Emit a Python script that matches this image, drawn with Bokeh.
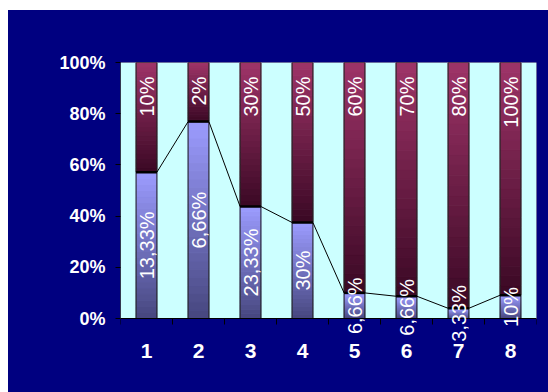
import numpy as np
from bokeh.plotting import figure
from bokeh.models import Range1d, FixedTicker, ColumnDataSource, Label
from bokeh.embed import file_html
from bokeh.resources import INLINE

categories = ["1", "2", "3", "4", "5", "6", "7", "8"]
bottom_vals = [13.33, 6.66, 23.33, 30, 6.66, 6.66, 3.33, 10]
top_vals = [10, 2, 30, 50, 60, 70, 80, 100]
bottom_labels = ["13,33%", "6,66%", "23,33%", "30%", "6,66%", "6,66%", "3,33%", "10%"]
top_labels = ["10%", "2%", "30%", "50%", "60%", "70%", "80%", "100%"]
y_ticks = [0, 0.2, 0.4, 0.6, 0.8, 1.0]
y_tick_labels = ["0%", "20%", "40%", "60%", "80%", "100%"]

NAVY = "#000080"
CYAN = "#CCFFFF"
FONT = "Liberation Sans"

# layout (pixels)
FIG_W, FIG_H = 540, 382
TOP = 52          # frame top
PLOT_H = 256      # height of the 0..100% band
LEFT, RIGHT = 112, 12

xs = np.arange(1, len(categories) + 1, dtype=float)
bv = np.array(bottom_vals, dtype=float)
tv = np.array(top_vals, dtype=float)
share = bv / (bv + tv)
W = 0.4

x0, x1 = 0.5, len(categories) + 0.5
y_start = -(FIG_H - TOP - PLOT_H) / PLOT_H

p = figure(width=FIG_W, height=FIG_H, output_backend="svg", toolbar_location=None,
           x_range=Range1d(x0, x1), y_range=Range1d(y_start, 1))
p.margin = (10, 0, 0, 8)
p.styles = {"background-color": NAVY}
p.min_border_left = LEFT
p.min_border_right = RIGHT
p.min_border_top = TOP
p.min_border_bottom = 0
p.background_fill_color = NAVY
p.border_fill_color = NAVY
p.outline_line_color = None
p.grid.visible = False

# plot area (0..100%)
p.quad(left=[x0], right=[x1], bottom=[0], top=[1], fill_color=CYAN,
       line_color="#A0A0A0", line_width=1)


def hex2rgb(h):
    h = h.lstrip("#")
    return np.array([int(h[i:i + 2], 16) for i in (0, 2, 4)], dtype=float)


def rgb2hex(c):
    return "#%02x%02x%02x" % tuple(int(round(v)) for v in c)


def gradient(y0, y1, c_top, c_bot, n=24):
    lefts, rights, bots, tops, cols = [], [], [], [], []
    ct, cb = hex2rgb(c_top), hex2rgb(c_bot)
    for i, x in enumerate(xs):
        a, b = y0[i], y1[i]
        for k in range(n):
            f0 = k / n
            f1 = (k + 1) / n
            bots.append(a + (b - a) * f0)
            tops.append(a + (b - a) * f1)
            lefts.append(x - W / 2)
            rights.append(x + W / 2)
            t = 1 - (f0 + f1) / 2  # 0 at top, 1 at bottom
            cols.append(rgb2hex(ct + (cb - ct) * t))
    return dict(left=lefts, right=rights, bottom=bots, top=tops, color=cols)


g1 = gradient(np.zeros_like(share), share, "#9C9CFF", "#46467E")
p.quad(source=ColumnDataSource(g1), left="left", right="right", bottom="bottom",
       top="top", fill_color="color", line_color="color", line_width=1)
g2 = gradient(share, np.ones_like(share), "#9E3468", "#3A0824")
p.quad(source=ColumnDataSource(g2), left="left", right="right", bottom="bottom",
       top="top", fill_color="color", line_color="color", line_width=1)

# outlines
p.quad(left=xs - W / 2, right=xs + W / 2, bottom=0, top=share, fill_color=None,
       line_color="#202020", line_width=1)
p.quad(left=xs - W / 2, right=xs + W / 2, bottom=share, top=1, fill_color=None,
       line_color="#202020", line_width=1)
p.segment(x0=xs - W / 2, y0=share, x1=xs + W / 2, y1=share, line_color="black",
          line_width=2.5)

# series lines
p.segment(x0=xs[:-1] + W / 2, y0=share[:-1], x1=xs[1:] - W / 2, y1=share[1:],
          line_color="black", line_width=1)

# data labels
for x, s, bl, tl in zip(xs, share, bottom_labels, top_labels):
    p.add_layout(Label(x=x, y=s / 2, text=bl, angle=np.pi / 2,
                       text_align="center", text_baseline="middle",
                       text_color="white", text_font=FONT, text_font_size="20px"))
    p.add_layout(Label(x=x, y=1.0, text=tl, angle=np.pi / 2,
                       text_align="right", text_baseline="middle",
                       text_color="white", text_font=FONT, text_font_size="20px",
                       y_offset=-14))

# axes
xa = p.xaxis[0]
xa.fixed_location = 0
xa.ticker = FixedTicker(ticks=list(xs), minor_ticks=list(np.arange(x0, x1 + 0.5, 1.0)))
xa.major_label_overrides = {float(x): c for x, c in zip(xs, categories)}
xa.major_tick_out = 0
xa.major_tick_in = 0
xa.minor_tick_out = 6
xa.minor_tick_in = 0
xa.minor_tick_line_color = "black"
xa.axis_line_color = "black"
xa.major_label_standoff = 19
xa.major_label_text_color = "white"
xa.major_label_text_font = FONT
xa.major_label_text_font_style = "bold"
xa.major_label_text_font_size = "21px"

ya = p.yaxis[0]
ya.bounds = (0, 1)
ya.ticker = FixedTicker(ticks=y_ticks, minor_ticks=[])
ya.major_label_overrides = {t: l for t, l in zip(y_ticks, y_tick_labels)}
ya.major_tick_out = 5
ya.major_tick_in = 0
ya.major_tick_line_color = "black"
ya.axis_line_color = None
ya.major_label_standoff = 10
ya.major_label_text_color = "white"
ya.major_label_text_font = FONT
ya.major_label_text_font_style = "bold"
ya.major_label_text_font_size = "18px"

# left edge of plot area drawn as the value-axis line
p.segment(x0=[x0], y0=[0], x1=[x0], y1=[1], line_color="black", line_width=1)

open("out.html", "w").write(file_html(p, INLINE))
